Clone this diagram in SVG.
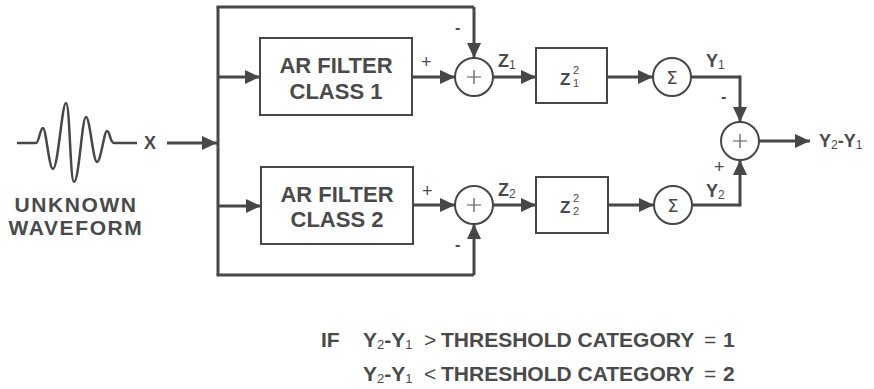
<svg xmlns="http://www.w3.org/2000/svg" width="874" height="389" viewBox="0 0 874 389">
<defs>
<marker id="ah" markerUnits="userSpaceOnUse" markerWidth="16" markerHeight="14" refX="15" refY="7" orient="auto"><path d="M0,0 L15,7 L0,14 z" fill="#474747"/></marker>
</defs>
<style>
.ln{fill:none;stroke:#474747;stroke-width:3;marker-end:url(#ah)}
.pl{fill:none;stroke:#474747;stroke-width:3}
.bx{fill:#fff;stroke:#474747;stroke-width:2}
.cr{fill:#fff;stroke:#474747;stroke-width:2}
.thin{stroke:#555;stroke-width:1.2;fill:none}
text{font-family:"Liberation Sans",Arial,Helvetica,sans-serif;fill:#4a4a4a;font-weight:bold}
.nw{font-weight:normal}
.big{font-size:21px}
.bt{font-size:22px;text-anchor:middle}
.lb{font-size:18px}
.sb{font-size:12px;font-weight:normal}
.sq{font-size:11px;font-weight:normal}
.sig{font-family:"DejaVu Sans",sans-serif;font-size:18px;font-weight:normal;text-anchor:middle}
</style>
<rect width="874" height="389" fill="#fff"/>

<g id="connectors">
<path class="ln" d="M167,143 H217"/>
<path class="pl" d="M218,7 V275"/>
<path class="pl" d="M216.5,7 H474"/>
<path class="ln" d="M474,7 V58"/>
<path class="pl" d="M216.5,275 H474"/>
<path class="ln" d="M474,275 V224"/>
<path class="ln" d="M218,77 H260"/>
<path class="ln" d="M218,206 H261"/>
<path class="ln" d="M412,77 H455"/>
<path class="ln" d="M413,205 H455"/>
<path class="ln" d="M493,77 H536"/>
<path class="ln" d="M493,205 H536"/>
<path class="ln" d="M607,77 H653"/>
<path class="ln" d="M608,205 H654"/>
<path class="pl" d="M691,77 H740"/>
<path class="ln" d="M740,75.5 V122"/>
<path class="pl" d="M692,205 H740"/>
<path class="ln" d="M740,206.5 V160"/>
<path class="ln" d="M759,141 H810"/>
</g>

<g id="waveform">
<path d="M17,143 H36 C39,143 40,128 43,128 C46,128 49,169 53,169 C58,169 62,103 66,103 C70,103 70,182 74,182 C79,182 82,117 86,117 C90,117 93,162 97,162 C101,162 104,131 107,131 C110,131 110,143 114,143 H137" fill="none" stroke="#474747" stroke-width="2.5" stroke-linejoin="round"/>
<text class="big" x="76" y="212" text-anchor="middle" letter-spacing="1.6">UNKNOWN</text>
<text class="big" x="76" y="235" text-anchor="middle" letter-spacing="1.6">WAVEFORM</text>
<text class="lb" x="144" y="149">X</text>
</g>

<g id="filter1">
<rect class="bx" x="260" y="38" width="152" height="77"/>
<text class="bt" x="336" y="73">AR FILTER</text>
<text class="bt" x="336" y="99">CLASS 1</text>
</g>
<g id="filter2">
<rect class="bx" x="261" y="167" width="152" height="77"/>
<text class="bt" x="337" y="202">AR FILTER</text>
<text class="bt" x="337" y="227">CLASS 2</text>
</g>

<g id="sum1">
<circle class="cr" cx="474" cy="77" r="19"/>
<path class="thin" d="M467,77 H481 M474,70 V84"/>
<text class="nw" x="421" y="68" font-size="18">+</text>
<text x="455" y="33" font-size="16">-</text>
<text class="lb" x="498" y="67">Z<tspan class="sb" dy="2">1</tspan></text>
</g>
<g id="sum2">
<circle class="cr" cx="474" cy="205" r="19"/>
<path class="thin" d="M467,205 H481 M474,198 V212"/>
<text class="nw" x="422" y="197" font-size="18">+</text>
<text x="455" y="250" font-size="16">-</text>
<text class="lb" x="498" y="196">Z<tspan class="sb" dy="2">2</tspan></text>
</g>

<g id="square1">
<rect class="bx" x="536" y="48" width="71" height="55"/>
<text x="560" y="85" font-size="17">Z</text>
<text class="sq" x="573" y="74">2</text>
<text class="sq" x="573" y="87">1</text>
</g>
<g id="square2">
<rect class="bx" x="536" y="177" width="72" height="56"/>
<text x="560" y="213" font-size="17">Z</text>
<text class="sq" x="573" y="202">2</text>
<text class="sq" x="573" y="215">2</text>
</g>

<g id="sigma1">
<circle class="cr" cx="672" cy="77" r="19"/>
<text class="sig" x="672" y="84">Σ</text>
<text class="lb" x="706" y="67">Y<tspan class="sb" dy="2">1</tspan></text>
</g>
<g id="sigma2">
<circle class="cr" cx="673" cy="205" r="19"/>
<text class="sig" x="673" y="212">Σ</text>
<text class="lb" x="706" y="197">Y<tspan class="sb" dy="2">2</tspan></text>
</g>

<g id="diff">
<circle class="cr" cx="740" cy="141" r="19"/>
<path class="thin" d="M733,141 H747 M740,134 V148"/>
<text x="721" y="102" font-size="16">-</text>
<text class="nw" x="714" y="173" font-size="18">+</text>
<text class="lb" x="819" y="147">Y<tspan class="sb" dy="2">2</tspan><tspan dy="-2">-Y</tspan><tspan class="sb" dy="2">1</tspan></text>
</g>

<g id="rule">
<text class="big" x="321" y="347">IF</text>
<text class="big" x="363" y="347">Y<tspan class="nw" font-size="13" dy="2">2</tspan><tspan dy="-2">-Y</tspan><tspan class="nw" font-size="13" dy="2">1</tspan></text>
<text class="big nw" x="424" y="347" font-size="24">&gt;</text>
<text class="big" x="441" y="347">THRESHOLD CATEGORY</text>
<text class="big nw" x="704" y="347">=</text>
<text class="big" x="723" y="347">1</text>
<text class="big" x="363" y="381">Y<tspan class="nw" font-size="13" dy="2">2</tspan><tspan dy="-2">-Y</tspan><tspan class="nw" font-size="13" dy="2">1</tspan></text>
<text class="big nw" x="424" y="381" font-size="24">&lt;</text>
<text class="big" x="441" y="381">THRESHOLD CATEGORY</text>
<text class="big nw" x="704" y="381">=</text>
<text class="big" x="723" y="381">2</text>
</g>
</svg>
